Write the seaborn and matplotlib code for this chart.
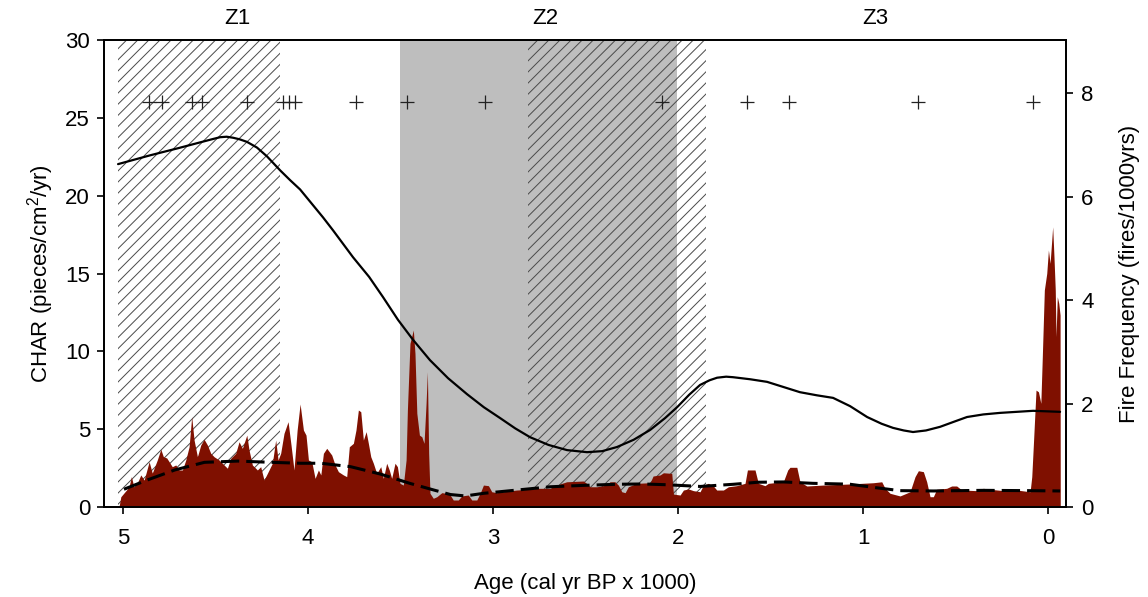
import matplotlib
matplotlib.use("Agg")
import matplotlib.pyplot as plt
import seaborn as sns

# ---------------- data ----------------
char_age = [5.022, 5.012, 4.995, 4.968, 4.955, 4.941, 4.923, 4.904, 4.886, 4.859,
            4.842, 4.815, 4.796, 4.782, 4.764, 4.751, 4.734, 4.715, 4.697, 4.679,
            4.661, 4.643, 4.629, 4.616, 4.598, 4.580, 4.562, 4.544, 4.526, 4.508,
            4.481, 4.454, 4.436, 4.418, 4.391, 4.373, 4.355, 4.331, 4.319, 4.301,
            4.274, 4.256, 4.238, 4.220, 4.193, 4.175, 4.162, 4.148, 4.130, 4.108,
            4.092, 4.076, 4.059, 4.043, 4.025, 4.011, 3.998, 3.980, 3.962, 3.944,
            3.931, 3.917, 3.899, 3.872, 3.854, 3.836, 3.809, 3.791, 3.777, 3.755,
            3.741, 3.728, 3.715, 3.701, 3.686, 3.674, 3.661, 3.647, 3.629, 3.607,
            3.593, 3.575, 3.561, 3.548, 3.530, 3.517, 3.503, 3.485, 3.470, 3.463,
            3.449, 3.431, 3.422, 3.412, 3.398, 3.385, 3.373, 3.362, 3.355, 3.348,
            3.341, 3.323, 3.304, 3.277, 3.250, 3.232, 3.215, 3.188, 3.169, 3.134,
            3.115, 3.088, 3.070, 3.052, 3.025, 3.007, 2.980, 2.944, 2.872, 2.800,
            2.764, 2.692, 2.656, 2.602, 2.512, 2.494, 2.476, 2.439, 2.385, 2.368,
            2.341, 2.323, 2.304, 2.286, 2.269, 2.223, 2.151, 2.135, 2.097, 2.079,
            2.034, 2.025, 1.989, 1.971, 1.944, 1.917, 1.881, 1.863, 1.836, 1.809,
            1.791, 1.755, 1.728, 1.683, 1.638, 1.625, 1.584, 1.566, 1.530, 1.512,
            1.431, 1.407, 1.395, 1.358, 1.341, 1.304, 1.215, 1.070, 0.944, 0.899,
            0.881, 0.854, 0.800, 0.746, 0.719, 0.701, 0.674, 0.656, 0.638, 0.620,
            0.602, 0.548, 0.521, 0.494, 0.466, 0.385, 0.350, 0.314, 0.242, 0.169,
            0.097, 0.088, 0.079, 0.065, 0.052, 0.039, 0.031, 0.020, 0.007, -0.002,
            -0.011, -0.020, -0.025, -0.032, -0.039, -0.043, -0.050, -0.058, -0.065, -0.066]
char_val = [0, 0.66, 0.90, 1.28, 1.95, 1.28, 1.54, 2.06, 1.73, 2.91,
            2.18, 3.02, 3.71, 3.23, 3.15, 2.91, 2.59, 2.70, 2.38, 2.38,
            3.02, 3.87, 5.80, 4.30, 3.23, 3.98, 4.35, 3.98, 3.45, 3.23,
            3.02, 2.70, 2.49, 3.13, 3.45, 4.19, 3.77, 4.62, 3.66, 2.70,
            2.38, 2.59, 1.73, 2.16, 2.81, 4.30, 3.02, 3.45, 4.73, 5.48,
            3.98, 2.38, 4.94, 6.62, 4.94, 4.62, 3.02, 2.91, 1.84, 2.38,
            2.06, 3.45, 3.77, 3.34, 2.70, 2.27, 2.06, 1.95, 3.87, 4.09,
            4.94, 6.23, 6.12, 4.30, 4.84, 4.09, 3.23, 2.81, 2.16, 2.59,
            1.84, 2.81, 2.38, 1.84, 2.81, 2.59, 1.52, 1.41, 3.02, 6.23,
            10.51, 11.37, 9.87, 6.02, 4.62, 4.51, 4.09, 6.66, 8.69, 3.45,
            0.88, 0.56, 0.66, 0.92, 0.88, 0.77, 0.45, 0.45, 0.71, 0.77,
            0.45, 0.45, 0.88, 1.41, 1.37, 0.98, 0.92, 0.98, 1.09, 1.14,
            1.20, 1.20, 1.41, 1.62, 1.67, 1.52, 1.30, 1.30, 1.41, 1.62,
            1.62, 1.41, 0.98, 0.92, 1.30, 1.52, 1.56, 1.99, 2.06, 2.20,
            2.16, 0.83, 0.77, 1.09, 1.16, 1.05, 0.98, 1.41, 1.52, 1.35,
            1.09, 1.09, 1.30, 1.37, 1.52, 2.38, 2.38, 1.52, 1.37, 1.52,
            1.62, 2.38, 2.55, 2.55, 1.62, 1.35, 1.41, 1.48, 1.56, 1.62,
            1.20, 0.88, 0.71, 0.98, 1.95, 2.33, 2.27, 1.62, 0.66, 0.66,
            1.14, 1.20, 1.35, 1.35, 1.09, 1.05, 1.20, 1.14, 1.05, 1.09,
            0.98, 1.95, 4.09, 7.51, 7.40, 6.66, 9.65, 13.94, 15.01, 16.51,
            15.65, 17.15, 18.00, 16.08, 13.94, 10.94, 13.51, 13.08, 12.33, 0]

# fire frequency (right axis)
ff_age = [5.027, 4.854, 4.700, 4.584, 4.520, 4.476, 4.440, 4.405, 4.370, 4.330,
          4.276, 4.222, 4.151, 4.097, 4.043, 3.919, 3.865, 3.757, 3.670, 3.595,
          3.514, 3.432, 3.341, 3.243, 3.140, 3.050, 2.962, 2.880, 2.800, 2.700,
          2.600, 2.492, 2.410, 2.330, 2.240, 2.151, 2.070, 2.005, 1.940, 1.881,
          1.830, 1.789, 1.740, 1.703, 1.610, 1.519, 1.430, 1.341, 1.250, 1.162,
          1.070, 0.978, 0.900, 0.838, 0.780, 0.730, 0.660, 0.584, 0.500, 0.438,
          0.350, 0.259, 0.170, 0.081, -0.065]
ff_val = [6.63, 6.80, 6.94, 7.05, 7.11, 7.15, 7.16, 7.14, 7.11, 7.06,
          6.95, 6.78, 6.51, 6.32, 6.14, 5.60, 5.35, 4.83, 4.45, 4.06,
          3.62, 3.23, 2.84, 2.49, 2.18, 1.93, 1.72, 1.52, 1.35, 1.20,
          1.10, 1.06, 1.08, 1.16, 1.30, 1.49, 1.72, 1.93, 2.17, 2.36,
          2.45, 2.50, 2.52, 2.51, 2.47, 2.42, 2.32, 2.22, 2.16, 2.11,
          1.95, 1.74, 1.61, 1.53, 1.48, 1.45, 1.48, 1.55, 1.66, 1.74,
          1.79, 1.82, 1.84, 1.86, 1.84]

# CHAR background (left axis)
bg_age = [4.995, 4.87, 4.72, 4.56, 4.38, 4.20, 4.04, 3.93, 3.77, 3.61,
          3.45, 3.32, 3.23, 3.15, 3.05, 2.87, 2.69, 2.51, 2.33, 2.19,
          2.06, 1.88, 1.70, 1.57, 1.43, 1.27, 1.12, 1.07, 0.93, 0.80,
          0.62, 0.35, 0.10, -0.065]
bg_val = [1.14, 1.73, 2.38, 2.87, 2.95, 2.87, 2.81, 2.81, 2.59, 2.12,
          1.52, 1.09, 0.80, 0.71, 0.88, 1.09, 1.30, 1.39, 1.46, 1.48,
          1.43, 1.32, 1.46, 1.59, 1.61, 1.52, 1.48, 1.46, 1.24, 1.05,
          1.03, 1.07, 1.05, 1.03]

# fire events (crosses)
peak_age = [4.859, 4.791, 4.625, 4.575, 4.331, 4.134, 4.103, 4.070, 3.741,
            3.463, 3.045, 2.088, 1.629, 1.398, 0.701, 0.080]
peak_level = 26

# zones
zone_names = ["Z1", "Z2", "Z3"]
zone_label_age = [4.38, 2.72, 0.935]
hatch_spans = [(5.027, 4.151), (2.81, 1.85)]
gray_span = (3.503, 2.005)

x_ticks = [5, 4, 3, 2, 1, 0]
left_ticks = [0, 5, 10, 15, 20, 25, 30]
right_ticks = [0, 2, 4, 6, 8]

# ---------------- style ----------------
sns.set_theme(style="ticks")
plt.rcParams["font.family"] = ["Liberation Sans", "DejaVu Sans"]
plt.rcParams.update({
    "mathtext.default": "regular",
    "hatch.linewidth": 0.7,
    "axes.edgecolor": "black",
    "axes.labelcolor": "black",
    "text.color": "black",
    "xtick.color": "black",
    "ytick.color": "black",
})
FS = 16

fig = plt.figure(figsize=(11.48, 5.97), dpi=100)
ax = fig.add_axes([0.09059, 0.15075, 0.83798, 0.78224])

ax.axvspan(*gray_span, facecolor="#bebebe", lw=0, zorder=0.2)
for a0, a1 in hatch_spans:
    ax.axvspan(a0, a1, facecolor="none", edgecolor="#4a4a4a", hatch="///",
               lw=0, zorder=0.4)

ax.fill_between(char_age, 0, char_val, color="#7f1000", lw=0, zorder=1)
sns.lineplot(x=bg_age, y=bg_val, ax=ax, color="black", lw=2.2,
             linestyle=(0, (6, 2.3)), sort=False, zorder=2)
sns.scatterplot(x=peak_age, y=[peak_level] * len(peak_age), ax=ax, marker="+",
                s=110, color="#222222", linewidth=0.9, zorder=3)

ax.set_xlim(5.103, -0.097)
ax.set_ylim(0, 30)
ax.set_xticks(x_ticks)
ax.set_xticklabels([str(t) for t in x_ticks])
ax.set_yticks(left_ticks)
ax.tick_params(axis="x", direction="out", length=5, width=1.2, pad=10,
               labelsize=FS, top=False)
ax.tick_params(axis="y", direction="out", length=5, width=1.2, pad=5,
               labelsize=FS, right=False)

ax2 = ax.twinx()
sns.lineplot(x=ff_age, y=ff_val, ax=ax2, color="black", lw=1.6, sort=False,
             zorder=4)
ax2.set_ylim(0, 9.03)
ax2.set_yticks(right_ticks)
ax2.tick_params(axis="y", direction="out", length=5, width=1.2, pad=6,
                labelsize=FS)

for a in (ax, ax2):
    for s in a.spines.values():
        s.set_visible(True)
        s.set_linewidth(1.3)
        s.set_color("black")

ax.set_xlabel("Age (cal yr BP x 1000)", fontsize=FS)
ax.xaxis.set_label_coords(0.5, -0.163)
ax.xaxis.label.set_va("center")
ax.set_ylabel("CHAR (pieces/cm$^{2}$/yr)", fontsize=FS)
ax.yaxis.set_label_coords(-0.0655, 0.5)
ax.yaxis.label.set_va("center")
ax2.set_ylabel("Fire Frequency (fires/1000yrs)", fontsize=FS)
ax2.yaxis.set_label_coords(1.0665, 0.5)
ax2.yaxis.label.set_va("center")

for name, za in zip(zone_names, zone_label_age):
    ax.text(za, 1.047, name, transform=ax.get_xaxis_transform(),
            ha="center", va="center", fontsize=FS)

fig.savefig("out.png", dpi=100)
